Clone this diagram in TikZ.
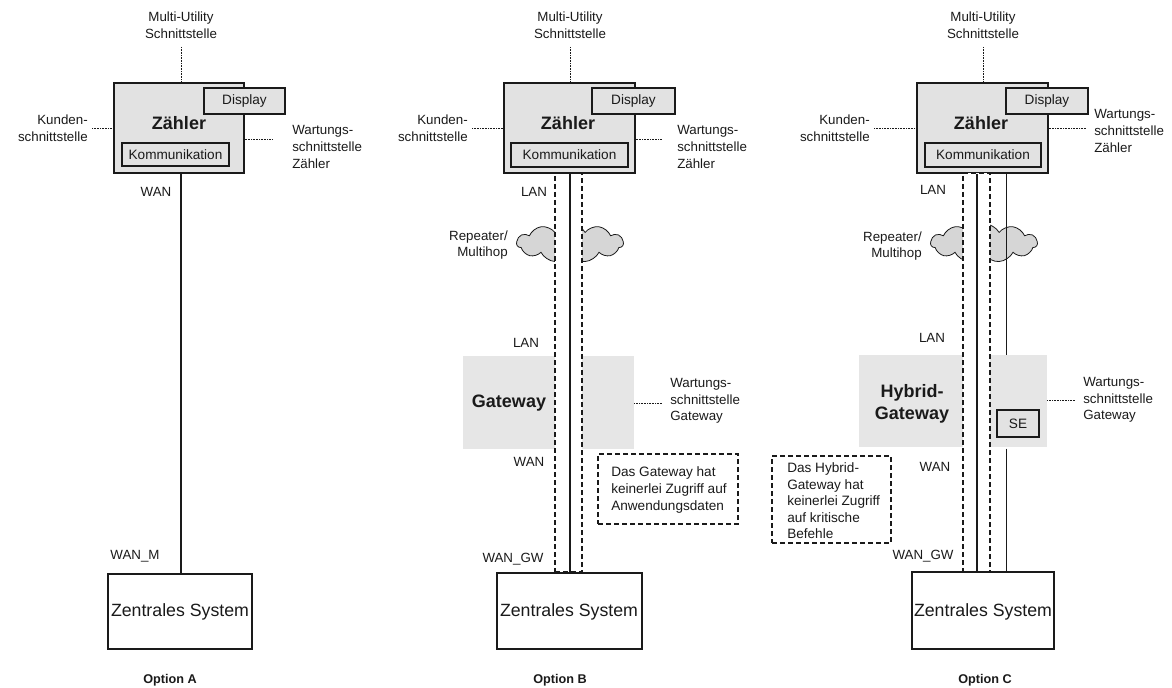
\documentclass[tikz,border=0pt]{standalone}
\usepackage{fontspec}
\setmainfont{Liberation Sans}
\usetikzlibrary{shapes.symbols,fit}
\definecolor{boxgray}{HTML}{E2E2E2}
\definecolor{areagray}{HTML}{E6E6E6}
\definecolor{cloudgray}{HTML}{D6D6D6}
\definecolor{ink}{HTML}{1A1A1A}
\tikzset{
  lbl/.style={font=\fontsize{10}{12.4}\selectfont, align=center, inner sep=0pt, text=ink},
  lblr/.style={lbl, align=right},
  lbll/.style={lbl, align=left},
  bigb/.style={font=\fontsize{13.5}{16.5}\selectfont\bfseries, inner sep=0pt, align=center, text=ink},
  zs/.style={font=\fontsize{13.3}{16}\selectfont, text=ink},
  opt/.style={font=\fontsize{9.5}{11}\selectfont\bfseries, inner sep=0pt, text=ink},
  zbox/.style={draw=ink, line width=0.9pt, fill=boxgray, inner sep=0pt},
  sbox/.style={draw=ink, line width=0.9pt, fill=boxgray, inner sep=0pt},
  stxt/.style={font=\fontsize{10.2}{12}\selectfont, inner sep=0pt, text=ink},
  wbox/.style={draw=ink, line width=0.8pt, fill=white, inner sep=0pt},
  area/.style={fill=areagray, inner sep=0pt},
  tunnel/.style={draw=ink, fill=white, line width=0.8pt, dash pattern=on 3.5pt off 2.5pt, inner sep=0pt},
  note/.style={draw=ink, line width=0.8pt, dash pattern=on 3.5pt off 2.5pt, inner sep=0pt},
  dotl/.style={draw=ink, line width=0.4pt, dash pattern=on 0.6pt off 0.6pt},
  solidl/.style={draw=ink, line width=0.8pt},
  cloudn/.style={cloud, cloud puffs=11, cloud puff arc=120, aspect=2.8, draw=ink, line width=0.6pt, fill=cloudgray, minimum width=80pt, minimum height=29pt, inner sep=0pt}
}
\begin{document}
\begin{tikzpicture}[x=0.75pt,y=-0.75pt]
\useasboundingbox (0,0) rectangle (1172,688);

% ================= Option A =================
\node[lbl] (muA) at (181,25) {Multi-Utility\\Schnittstelle};
\node[zbox, fit={(114,83) (244,173)}] (zA) {};
\node[bigb] (zTA) at (179,123) {Zähler};
\node[sbox, fit={(204,88) (285,114)}] (dA) {};
\node[stxt] (dTA) at (dA.center) {Display};
\node[sbox, fit={(122,143) (229,166)}] (kA) {};
\node[stxt] (kTA) at (kA.center) {Kommunikation};
\node[lblr, anchor=east] (kuA) at (88,128) {Kunden-\\schnittstelle};
\node[lbll, anchor=west] (wzA) at (292,147) {Wartungs-\\schnittstelle\\Zähler};
\coordinate (wzAe) at (272,139);
\coordinate (muAx) at (181,47);
\draw[dotl] (muAx) -- (muAx |- zA.north);
\draw[dotl] ([xshift=3pt]kuA.east) -- (kuA.east -| zA.west);
\draw[dotl] (wzAe -| zA.east) -- (wzAe);
\node[lbl] (wanA) at (156,192) {WAN};
\node[lbl] (wanmA) at (135,556) {WAN\_M};
\node[wbox, fit={(108,574) (252,649)}] (zsA) {};
\node[zs] (zsTA) at (180,612) {Zentrales System};
\draw[solidl] (muAx |- zA.south) -- (muAx |- zsA.north);
\node[opt] (optA) at (170,680) {Option A};

% ================= Option B =================
\node[lbl] (muB) at (570,25) {Multi-Utility\\Schnittstelle};
\node[area, fit={(463,356) (634,449)}] (gwB) {};
\node[cloudn] (clB) at (570,243) {};
\node[lblr, anchor=east] (rpB) at (508,245) {Repeater/\\Multihop};
\node[tunnel, fit={(555,173) (582,572)}] (tuB) {};
\node[zbox, fit={(504,83) (635,173)}] (zB) {};
\node[bigb] (zTB) at (568,123) {Zähler};
\node[sbox, fit={(592,88) (675,114)}] (dB) {};
\node[stxt] (dTB) at (dB.center) {Display};
\node[sbox, fit={(511,143) (628,167)}] (kB) {};
\node[stxt] (kTB) at (kB.center) {Kommunikation};
\node[lblr, anchor=east] (kuB) at (468,128) {Kunden-\\schnittstelle};
\node[lbll, anchor=west] (wzB) at (677,147) {Wartungs-\\schnittstelle\\Zähler};
\coordinate (wzBe) at (662,139);
\coordinate (muBx) at (570,47);
\draw[dotl] (muBx) -- (muBx |- zB.north);
\draw[dotl] ([xshift=3pt]kuB.east) -- (kuB.east -| zB.west);
\draw[dotl] (wzBe -| zB.east) -- (wzBe);
\node[wbox, fit={(497,573) (642,649)}] (zsB) {};
\node[zs] (zsTB) at (569,612) {Zentrales System};
\draw[solidl] (muBx |- zB.south) -- (muBx |- tuB.south);
\node[bigb] (gwTB) at (509,403) {Gateway};
\node[lbll, anchor=west] (wgB) at (670,401) {Wartungs-\\schnittstelle\\Gateway};
\coordinate (wgBe) at (662,403);
\draw[dotl] (wgBe -| gwB.east) -- (wgBe);
\node[lbl] (lan1B) at (534,192) {LAN};
\node[lbl] (lan2B) at (526,343) {LAN};
\node[lbl] (wanB) at (529,462) {WAN};
\node[lbl] (wangwB) at (513,559) {WAN\_GW};
\node[note, fit={(598,454) (738,524)}] (nB) {};
\node[lbll, anchor=west, font=\fontsize{10.2}{12.7}\selectfont] (nTB) at (611,490) {Das Gateway hat\\keinerlei Zugriff auf\\Anwendungsdaten};
\node[opt] (optB) at (560,680) {Option B};

% ================= Option C =================
\node[lbl] (muC) at (983,25) {Multi-Utility\\Schnittstelle};
\node[area, fit={(859,355) (1047,447)}] (gwC) {};
\node[cloudn] (clC) at (984,243) {};
\node[lblr, anchor=east] (rpC) at (922,246) {Repeater/\\Multihop};
\node[zbox, fit={(917,83) (1048,173)}] (zC) {};
\node[tunnel, fit={(963,173) (990,572)}] (tuC) {};
\node[bigb] (zTC) at (981,123) {Zähler};
\node[sbox, fit={(1006,88) (1088,114)}] (dC) {};
\node[stxt] (dTC) at (dC.center) {Display};
\node[sbox, fit={(925,143) (1041,167)}] (kC) {};
\node[stxt] (kTC) at (kC.center) {Kommunikation};
\node[lblr, anchor=east] (kuC) at (870,128) {Kunden-\\schnittstelle};
\node[lbll, anchor=west] (wzC) at (1094,131) {Wartungs-\\schnittstelle\\Zähler};
\coordinate (wzCe) at (1086,128);
\coordinate (muCx) at (983,47);
\draw[dotl] (muCx) -- (muCx |- zC.north);
\draw[dotl] ([xshift=3pt]kuC.east) -- (kuC.east -| zC.west);
\draw[dotl] (wzCe -| zC.east) -- (wzCe);
\node[wbox, fit={(912,572) (1054,649)}] (zsC) {};
\node[zs] (zsTC) at (983,612) {Zentrales System};
\coordinate (cmid) at (977,0);
\coordinate (cfar) at (1006,0);
\draw[solidl] (cmid |- zC.south) -- (cmid |- tuC.south);
\node[sbox, fit={(997,410) (1039,437)}] (seC) {};
\node[stxt] (seTC) at (seC.center) {SE};
\draw[solidl, line width=0.6pt] (cfar |- zC.south) -- (cfar |- gwC.north);
\draw[solidl, line width=0.6pt] (cfar |- seC.south) ++(0,11) -- (cfar |- zsC.north);
\node[bigb] (gwTC) at (912,404) {Hybrid-\\Gateway};
\node[lbll, anchor=west] (wgC) at (1083,400) {Wartungs-\\schnittstelle\\Gateway};
\coordinate (wgCe) at (1075,400);
\draw[dotl] (wgCe -| gwC.east) -- (wgCe);
\node[lbl] (lan1C) at (933,190) {LAN};
\node[lbl] (lan2C) at (932,338) {LAN};
\node[lbl] (wanC) at (935,467) {WAN};
\node[lbl] (wangwC) at (923,556) {WAN\_GW};
\node[note, fit={(772,456) (891,543)}] (nC) {};
\node[lbll, anchor=west, font=\fontsize{10.2}{12.4}\selectfont] (nTC) at (787,501) {Das Hybrid-\\Gateway hat\\keinerlei Zugriff\\auf kritische\\Befehle};
\node[opt] (optC) at (985,680) {Option C};
\end{tikzpicture}
\end{document}
